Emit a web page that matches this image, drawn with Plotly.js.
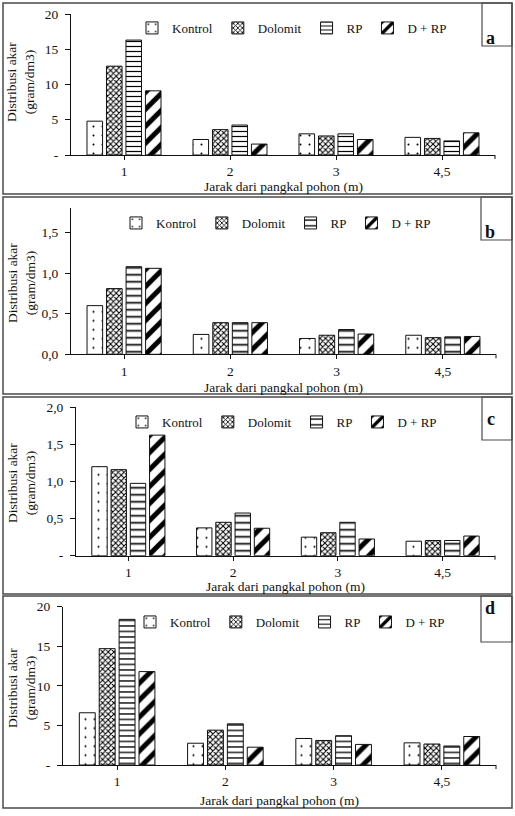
<!DOCTYPE html>
<html>
<head>
<meta charset="utf-8">
<script src="https://cdn.plot.ly/plotly-3.0.1.min.js"></script>
<style>
  html, body { margin: 0; padding: 0; background: #fff; }
  #chart { width: 515px; height: 816px; }
</style>
</head>
<body>
<div id="chart"></div>
<script>
// Categories (distance from the tree base, m) and treatments
const distances = ['1', '2', '3', '4,5'];
const treatments = ['Kontrol', 'Dolomit', 'RP', 'D + RP'];

// Root distribution (gram/dm3) — panel a
const aKontrol = [4.8, 2.2, 3.0, 2.5];
const aDolomit = [12.6, 3.6, 2.7, 2.35];
const aRP      = [16.3, 4.25, 3.0, 2.0];
const aDRP     = [9.1, 1.55, 2.2, 3.15];

// panel b
const bKontrol = [0.60, 0.245, 0.195, 0.235];
const bDolomit = [0.81, 0.39, 0.235, 0.205];
const bRP      = [1.08, 0.39, 0.305, 0.215];
const bDRP     = [1.06, 0.39, 0.25, 0.22];

// panel c
const cKontrol = [1.20, 0.375, 0.25, 0.195];
const cDolomit = [1.16, 0.45, 0.31, 0.205];
const cRP      = [0.975, 0.575, 0.45, 0.205];
const cDRP     = [1.625, 0.37, 0.225, 0.265];

// panel d
const dKontrol = [6.6, 2.75, 3.35, 2.8];
const dDolomit = [14.7, 4.4, 3.1, 2.65];
const dRP      = [18.4, 5.2, 3.7, 2.4];
const dDRP     = [11.8, 2.25, 2.6, 3.6];

// y tick values and their labels
const yTicksAD  = [0, 5, 10, 15, 20];
const yLabelsAD = ['-', '5', '10', '15', '20'];
const yTicksB   = [0, 0.5, 1.0, 1.5];
const yLabelsB  = ['0,0', '0,5', '1,0', '1,5'];
const yTicksC   = [0, 0.5, 1.0, 1.5, 2.0];
const yLabelsC  = ['-', '0,5', '1,0', '1,5', '2,0'];

const panelLetters = ['a', 'b', 'c', 'd'];
const xTitle = 'Jarak dari pangkal pohon (m)';
const yTitle = 'Distribusi akar<br>(gram/dm3)';

// ---- page geometry (pixels) ----
const W = 515, H = 816;
const px = x => x / W;
const py = y => 1 - y / H;

const FONT = '"Liberation Serif", "DejaVu Serif", serif';
const INK = '#111';
const BOX = '#4a4a4a';

const panels = [
  { vals: [aKontrol, aDolomit, aRP, aDRP], range: [0, 20], tv: yTicksAD, tt: yLabelsAD,
    box: [3, 3, 512, 194], plot: { l: 71, r: 495, t: 14, b: 155 }, tag: [482, 46],
    legend: [292, 28], xlab: 187, ytitle: [21, 82], hline: 5 },
  { vals: [bKontrol, bDolomit, bRP, bDRP], range: [0, 1.8], tv: yTicksB, tt: yLabelsB,
    box: [3, 197, 512, 394], plot: { l: 71, r: 496, t: 208.3, b: 354.3 }, tag: [481, 240],
    legend: [276, 223], xlab: 387, ytitle: [21, 283], hline: 7 },
  { vals: [cKontrol, cDolomit, cRP, cDRP], range: [0, 2], tv: yTicksC, tt: yLabelsC,
    box: [3, 397, 512, 594], plot: { l: 76, r: 495, t: 407.3, b: 555.7 }, tag: [482, 440],
    legend: [282, 422], xlab: 586, ytitle: [21, 483], hline: 7 },
  { vals: [dKontrol, dDolomit, dRP, dDRP], range: [0, 20], tv: yTicksAD, tt: yLabelsAD,
    box: [3, 596, 512, 808], plot: { l: 63, r: 496, t: 606.7, b: 765 }, tag: [481, 642],
    legend: [290, 622], xlab: 800, ytitle: [21, 688], hline: 5.5 }
];

function pattern(k, hline) {
  const base = { fgcolor: '#000', bgcolor: '#fff', fillmode: 'replace' };
  if (k === 0) return Object.assign(base, { shape: '.', size: 9, solidity: 0.04 });
  if (k === 1) return Object.assign(base, { shape: 'x', size: 4, solidity: 0.45 });
  if (k === 2) return Object.assign(base, { shape: '-', size: hline, solidity: 0.24 });
  return Object.assign(base, { shape: '/', size: 12, solidity: 0.42 });
}

const data = [];
const layout = {
  width: W, height: H,
  margin: { l: 0, r: 0, t: 0, b: 0 },
  paper_bgcolor: '#fff', plot_bgcolor: 'rgba(0,0,0,0)',
  font: { family: FONT, size: 13.5, color: INK },
  barmode: 'group', bargap: 0.265, bargroupgap: 0.2,
  showlegend: true,
  shapes: [], annotations: []
};

panels.forEach((p, i) => {
  const n = i + 1;
  const sfx = n === 1 ? '' : String(n);
  const legendId = 'legend' + sfx;

  p.vals.forEach((v, k) => {
    data.push({
      type: 'bar', x: distances, y: v, name: treatments[k],
      xaxis: 'x' + sfx, yaxis: 'y' + sfx, legend: legendId,
      marker: { color: '#fff', line: { color: INK, width: 1 }, pattern: pattern(k, p.hline) },
      hoverinfo: 'skip'
    });
  });

  layout['xaxis' + sfx] = {
    domain: [px(p.plot.l), px(p.plot.r)], anchor: 'y' + sfx,
    type: 'category', showline: true, linecolor: INK, linewidth: 1,
    ticks: 'outside', ticklen: 4, tickcolor: INK, ticklabelstandoff: 0,
    tickfont: { family: FONT, size: 13.5, color: INK },
    showgrid: false, zeroline: false, fixedrange: true
  };
  layout['yaxis' + sfx] = {
    domain: [py(p.plot.b), py(p.plot.t)], anchor: 'x' + sfx,
    range: p.range, tickvals: p.tv, ticktext: p.tt,
    showline: true, linecolor: INK, linewidth: 1,
    ticks: 'outside', ticklen: 5, tickcolor: INK, ticklabelstandoff: 4,
    tickfont: { family: FONT, size: 13.5, color: INK },
    showgrid: false, zeroline: false, fixedrange: true
  };

  layout[legendId] = {
    orientation: 'h', x: px(p.legend[0]), y: py(p.legend[1]),
    xanchor: 'center', yanchor: 'middle',
    bgcolor: 'rgba(0,0,0,0)', borderwidth: 0,
    font: { family: FONT, size: 13, color: INK },
    traceorder: 'normal', itemclick: false, itemdoubleclick: false
  };

  // closing tick at the right end of the category axis
  layout.shapes.push({
    type: 'line', xref: 'paper', yref: 'paper',
    x0: px(p.plot.r), x1: px(p.plot.r), y0: py(p.plot.b), y1: py(p.plot.b + 4),
    line: { color: INK, width: 1 }
  });

  // panel frame and letter tab
  layout.shapes.push({
    type: 'rect', xref: 'paper', yref: 'paper',
    x0: px(p.box[0]), x1: px(p.box[2]), y0: py(p.box[3]), y1: py(p.box[1]),
    line: { color: BOX, width: 1.5 }, fillcolor: 'rgba(0,0,0,0)'
  });
  layout.shapes.push({
    type: 'rect', xref: 'paper', yref: 'paper',
    x0: px(p.tag[0]), x1: px(p.box[2]), y0: py(p.tag[1]), y1: py(p.box[1]),
    line: { color: BOX, width: 1.2 }, fillcolor: 'rgba(0,0,0,0)'
  });
  layout.annotations.push({
    xref: 'paper', yref: 'paper', showarrow: false,
    x: px((p.tag[0] + p.box[2]) / 2), y: py((p.tag[1] + p.box[1]) / 2 + 1),
    text: '<b>' + panelLetters[i] + '</b>',
    font: { family: FONT, size: 18, color: INK }
  });

  // axis titles
  layout.annotations.push({
    xref: 'paper', yref: 'paper', showarrow: false,
    x: px((p.plot.l + p.plot.r) / 2), y: py(p.xlab),
    xanchor: 'center', yanchor: 'middle',
    text: xTitle, font: { family: FONT, size: 13.5, color: INK }
  });
  layout.annotations.push({
    xref: 'paper', yref: 'paper', showarrow: false,
    x: px(p.ytitle[0]), y: py(p.ytitle[1]),
    xanchor: 'center', yanchor: 'middle', textangle: -90,
    text: yTitle, font: { family: FONT, size: 13.5, color: INK }
  });
});

Plotly.newPlot('chart', data, layout, { staticPlot: true, displayModeBar: false });
</script>
</body>
</html>
